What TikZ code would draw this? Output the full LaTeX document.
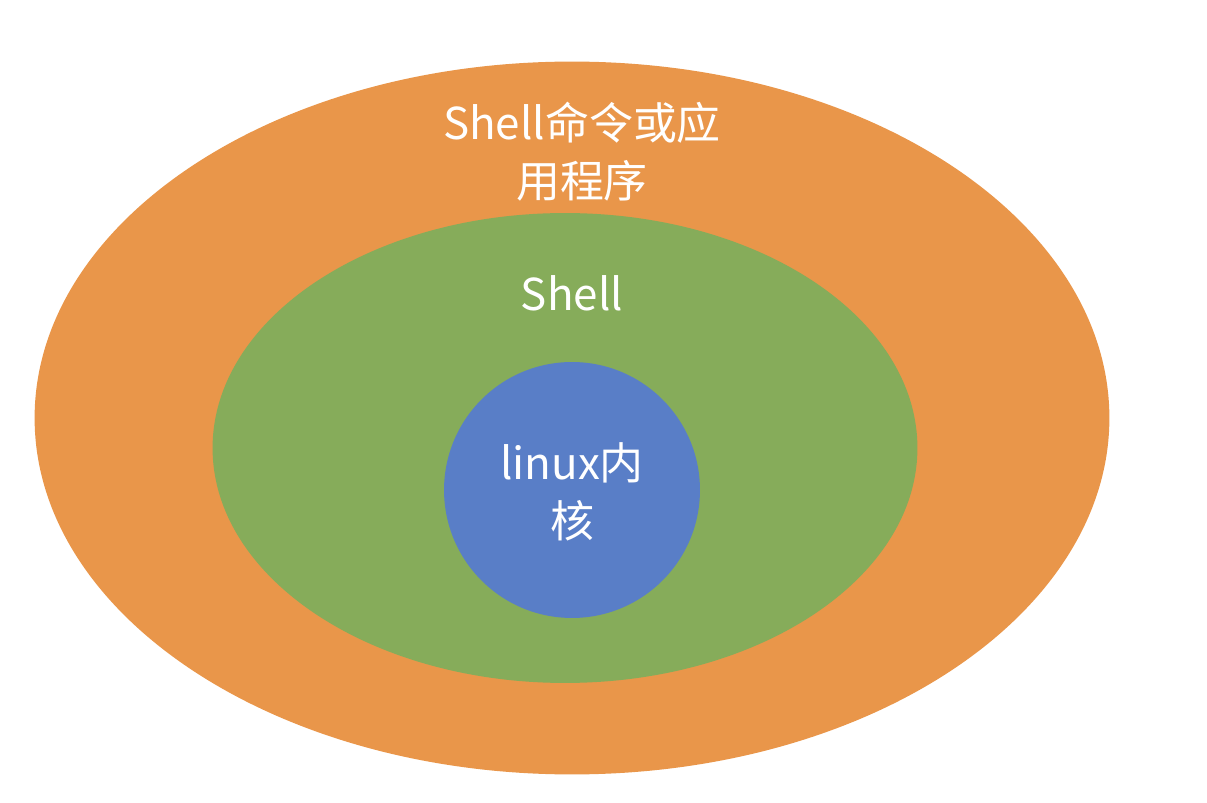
\documentclass[tikz,border=0pt]{standalone}
\usepackage{fontspec}
\setmainfont{Noto Sans CJK SC}
\usetikzlibrary{shapes.geometric}
\definecolor{shellorange}{RGB}{233,150,74}
\definecolor{shellgreen}{RGB}{134,172,90}
\definecolor{kernelblue}{RGB}{89,126,199}

\begin{document}
\begin{tikzpicture}[x=0.02cm,y=-0.02cm,
  layer/.style={ellipse,draw=none,inner sep=0pt},
  label/.style={text=white,font=\fontsize{25}{33}\selectfont,align=center}]
\useasboundingbox (0,0) rectangle (1207,803);

\node[layer,fill=shellorange,minimum width=21.5cm,minimum height=14.26cm] (apps) at (572,418) {};
\node[layer,fill=shellgreen,minimum width=14.1cm,minimum height=9.4cm] (shell) at (565,448) {};
\node[circle,fill=kernelblue,minimum size=5.12cm,inner sep=0pt] (kernel) at (572,490) {};

\node[label] (appstext) at (582,152) {Shell命令或应\\用程序};
\node[label] (shelltext) at (572,293) {Shell};
\node[label] (kerneltext) at (572,492) {linux内\\核};

\end{tikzpicture}
\end{document}
